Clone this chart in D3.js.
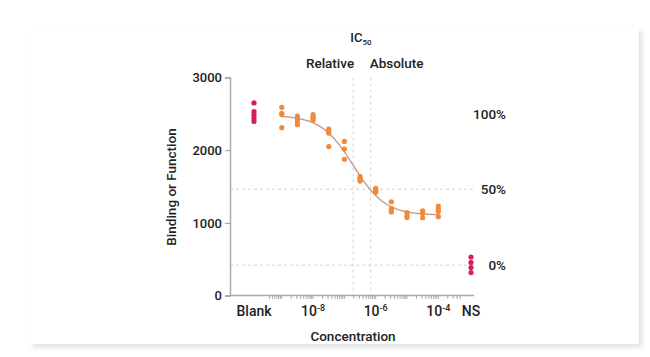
<!DOCTYPE html>
<html><head><meta charset="utf-8">
<script src="https://cdn.jsdelivr.net/npm/d3@7"></script>
<style>
html,body{margin:0;padding:0;background:#fff;width:650px;height:357px;overflow:hidden;}
#card{position:absolute;left:30px;top:28px;width:609px;height:316px;background:#fff;box-shadow:3px 3px 5px rgba(0,0,0,0.13);}
svg{position:absolute;left:0;top:0;}
text{font-family:Roboto,"Noto Sans",sans-serif;fill:#222;}
</style></head>
<body><div id="card"></div><svg id="c" width="650" height="357"></svg>
<script>
// ---- data ----
const concLog = [-9, -8.5, -8, -7.5, -7, -6.5, -6, -5.5, -5, -4.5, -4];
const responses = [
  [2590, 2505, 2490, 2310],
  [2470, 2430, 2395, 2350],
  [2490, 2460, 2440, 2410],
  [2290, 2260, 2235, 2050],
  [2120, 2015, 1875],
  [1640, 1615, 1595, 1575],
  [1475, 1455, 1435, 1420],
  [1290, 1200, 1170, 1150],
  [1140, 1100, 1075],
  [1165, 1130, 1070],
  [1230, 1190, 1155, 1085]
];
const blankValues = [2650, 2530, 2485, 2440, 2395];
const nsValues = [530, 455, 385, 315];
const fitTop = 2480, fitBottom = 1105, fitLogIC50 = -6.72, fitHill = 0.85;
const relativeIC50Log = -6.72, absoluteIC50Log = -6.16;
const pctLevels = [{label:"100%", v:2500}, {label:"50%", v:1463}, {label:"0%", v:418}];
const yTicks = [0, 1000, 2000, 3000];
const xMajorLogs = [-8, -6, -4];

// ---- layout ----
const svg = d3.select("#c");
const x = d3.scaleLinear().domain([-6, -4]).range([375.7, 438.3]);
const y = d3.scaleLinear().domain([0, 3000]).range([295.5, 77.5]);
const blankX = 254, nsX = 471, axisL = 230, axisR = 474;
const orange = "#ee8b3c", crimson = "#d4215a";

// grid dashed lines
const g = svg.append("g");
pctLevels.filter(d=>d.label!=="100%").forEach(d=>{
  g.append("line").attr("x1",axisL).attr("x2",axisR).attr("y1",y(d.v)).attr("y2",y(d.v))
   .attr("stroke","#c8c8c8").attr("stroke-width",0.8).attr("stroke-dasharray","3,3");
});
[relativeIC50Log, absoluteIC50Log].forEach(l=>{
  g.append("line").attr("x1",x(l)).attr("x2",x(l)).attr("y1",y(3000)).attr("y2",y(0))
   .attr("stroke","#c8c8c8").attr("stroke-width",0.8).attr("stroke-dasharray","3,3");
});

// y axis
const yAxis = d3.axisLeft(y).tickValues(yTicks).tickSize(5).tickPadding(3).tickFormat(d3.format("d"));
const ya = svg.append("g").attr("transform",`translate(${axisL},0)`).call(yAxis);
ya.select(".domain").attr("stroke","#aaa").attr("stroke-width",1.5);
ya.selectAll(".tick line").attr("stroke","#999");
ya.selectAll("text").attr("font-size",13).attr("font-weight",500).attr("fill","#222").style("font-family","Roboto");

// x axis baseline
svg.append("line").attr("x1",axisL).attr("x2",axisR).attr("y1",y(0)).attr("y2",y(0)).attr("stroke","#aaa").attr("stroke-width",1.5);
// minor ticks
const minor = [];
for (let d=-10; d<=-3; d++) for (let k=1;k<=9;k++){ const l=d+Math.log10(k); if (l>=Math.log10(4e-10)-1e-9 && l<=Math.log10(5e-4)+1e-9) minor.push(l); }
svg.append("g").selectAll("line").data(minor).join("line")
  .attr("x1",d=>x(d)).attr("x2",d=>x(d)).attr("y1",y(0)).attr("y2",y(0)+3.5)
  .attr("stroke","#999").attr("stroke-width",0.8);
// x labels
const xl = svg.append("g").attr("font-size",14).attr("font-weight",500);
xl.append("text").attr("x",blankX).attr("y",316).attr("text-anchor","middle").text("Blank");
xl.append("text").attr("x",nsX).attr("y",316).attr("text-anchor","middle").text("NS");
xMajorLogs.forEach(l=>{
  const t = xl.append("text").attr("x",x(l)).attr("y",316).attr("text-anchor","middle");
  t.append("tspan").text("10");
  t.append("tspan").attr("dy",-5).attr("font-size",9).text(String(l).replace("-","-"));
});

// axis titles
svg.append("text").attr("transform","translate(176,187) rotate(-90)").attr("text-anchor","middle")
  .attr("font-size",13.5).attr("font-weight",500).text("Binding or Function");
svg.append("text").attr("x",353).attr("y",341).attr("text-anchor","middle")
  .attr("font-size",13.5).attr("font-weight",500).text("Concentration");

// IC50 title
const ic = svg.append("text").attr("x",361).attr("y",42).attr("text-anchor","middle").attr("font-size",13).attr("font-weight",500);
ic.append("tspan").text("IC");
ic.append("tspan").attr("dy",3).attr("font-size",8).text("50");
svg.append("text").attr("x",x(relativeIC50Log)+1).attr("y",68).attr("text-anchor","end").attr("font-size",13.5).attr("font-weight",500).text("Relative");
svg.append("text").attr("x",x(absoluteIC50Log)-1).attr("y",68).attr("text-anchor","start").attr("font-size",13.5).attr("font-weight",500).text("Absolute");

// percent labels
svg.append("g").selectAll("text").data(pctLevels).join("text")
  .attr("x",506).attr("y",d=>y(d.v)+5).attr("text-anchor","end").attr("font-size",13.5).attr("font-weight",500).text(d=>d.label);

// fitted curve
const fit = l => fitBottom + (fitTop-fitBottom)/(1+Math.pow(10,(l-fitLogIC50)*fitHill));
const curveLogs = d3.range(concLog[0], concLog[concLog.length-1]+0.001, 0.05);
svg.append("path").datum(curveLogs)
  .attr("d", d3.line().x(d=>x(d)).y(d=>y(fit(d))).curve(d3.curveBasis))
  .attr("fill","none").attr("stroke","#c99a8c").attr("stroke-width",1.4);

// points
const pts = [];
concLog.forEach((l,i)=>responses[i].forEach(v=>pts.push({cx:x(l), v})));
svg.append("g").selectAll("circle").data(pts).join("circle")
  .attr("cx",d=>d.cx).attr("cy",d=>y(d.v)).attr("r",2.6).attr("fill",orange);
svg.append("g").selectAll("circle").data(blankValues).join("circle")
  .attr("cx",blankX).attr("cy",d=>y(d)).attr("r",2.6).attr("fill",crimson);
svg.append("g").selectAll("circle").data(nsValues).join("circle")
  .attr("cx",nsX).attr("cy",d=>y(d)).attr("r",2.6).attr("fill",crimson);
</script></body></html>
